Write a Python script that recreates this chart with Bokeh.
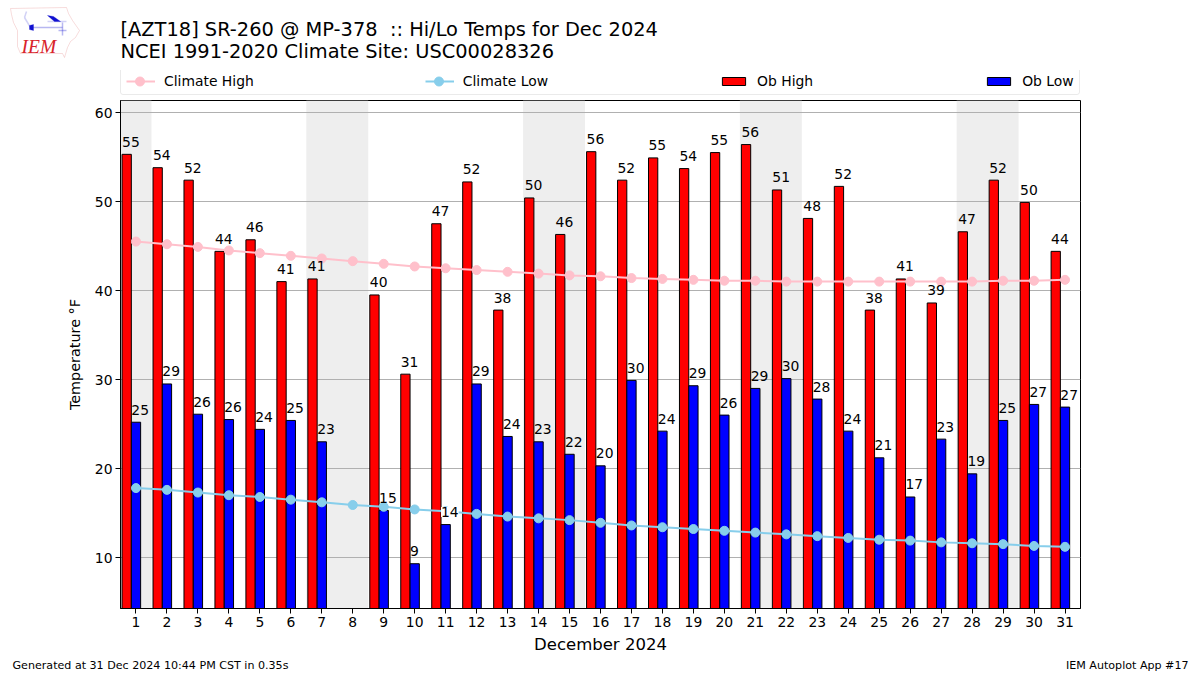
from bokeh.plotting import figure
from bokeh.layouts import column
from bokeh.models import (Legend, LegendItem, ColumnDataSource, Range1d, Label, PolyAnnotation,
                          FixedTicker)
from bokeh.core.properties import value
from bokeh.embed import file_html
from bokeh.resources import INLINE

days = list(range(1, 32))
ob_high = [55.3, 53.8, 52.4, 44.4, 45.7, 41.0, 41.3, None, 39.5, 30.6, 47.5, 52.2, 37.8, 50.4, 46.3, 55.6,
           52.4, 54.9, 53.7, 55.5, 56.4, 51.3, 48.1, 51.7, 37.8, 41.3, 38.6, 46.6, 52.4, 49.9, 44.4]
ob_low = [25.2, 29.5, 26.1, 25.5, 24.4, 25.4, 23.0, None, 15.3, 9.3, 13.7, 29.5, 23.6, 23.0, 21.6, 20.3,
          29.9, 24.2, 29.3, 26.0, 29.0, 30.1, 27.8, 24.2, 21.2, 16.8, 23.3, 19.4, 25.4, 27.2, 26.9]
high_labels = ["55", "54", "52", "44", "46", "41", "41", "", "40", "31", "47", "52", "38", "50", "46", "56",
               "52", "55", "54", "55", "56", "51", "48", "52", "38", "41", "39", "47", "52", "50", "44"]
low_labels = ["25", "29", "26", "26", "24", "25", "23", "", "15", "9", "14", "29", "24", "23", "22", "20",
              "30", "24", "29", "26", "29", "30", "28", "24", "21", "17", "23", "19", "25", "27", "27"]
clim_high = [45.5, 45.2, 44.9, 44.5, 44.2, 43.9, 43.6, 43.3, 43.0, 42.7, 42.5, 42.3, 42.1, 41.9, 41.7, 41.6,
             41.4, 41.3, 41.2, 41.1, 41.1, 41.0, 41.0, 41.0, 41.0, 41.0, 41.0, 41.0, 41.1, 41.1, 41.2]
clim_low = [17.8, 17.6, 17.3, 17.0, 16.8, 16.5, 16.2, 15.9, 15.7, 15.4, 15.2, 14.9, 14.6, 14.4, 14.2, 13.9,
            13.6, 13.4, 13.2, 13.0, 12.8, 12.6, 12.4, 12.2, 12.0, 11.9, 11.7, 11.6, 11.5, 11.3, 11.2]
weekend_starts = [0.5, 6.5, 13.5, 20.5, 27.5]
weekend_ends = [1.5, 8.5, 15.5, 22.5, 29.5]

FONT = "DejaVu Sans"
Y0, Y1 = 4.27, 61.35
LABEL_GAP = 0.85   # label bottom above the bar top, in degrees
HEADER_H, LEGEND_H, MAIN_H, FOOTER_H = 70, 29, 556, 20
HIGH, LOW, C_HIGH, C_LOW = "#ff0000", "#0000ff", "#ffc0cb", "#87ceeb"
NAN = float("nan")


def bare(w, h):
    f = figure(width=w, height=h, frame_width=w, frame_height=h, frame_align=False,
               output_backend="svg", toolbar_location=None,
               x_range=Range1d(0, w), y_range=Range1d(0, h),
               min_border=0, outline_line_color=None, x_axis_location=None, y_axis_location=None)
    f.grid.visible = False
    return f


# ---------- main chart ----------
p = figure(width=1200, height=MAIN_H, output_backend="svg", toolbar_location=None,
           x_range=Range1d(0.5, 31.5), y_range=Range1d(Y0, Y1),
           frame_width=960, frame_height=508, frame_align=False,
           min_border_left=120, min_border_right=120, min_border_top=1, min_border_bottom=47,
           outline_line_color="black", outline_line_width=1)

p.quad(left=weekend_starts, right=weekend_ends, bottom=Y0, top=Y1, fill_color="#eeeeee",
       line_color=None, level="image")

p.xgrid.visible = False
p.ygrid.grid_line_color = "#b0b0b0"
p.ygrid.grid_line_width = 1
p.ygrid.ticker = FixedTicker(ticks=[10, 20, 30, 40, 50, 60])
p.yaxis.ticker = FixedTicker(ticks=[10, 20, 30, 40, 50, 60])
p.xaxis.ticker = FixedTicker(ticks=days)
for ax in (p.xaxis[0], p.yaxis[0]):
    ax.major_label_text_font = FONT
    ax.major_label_text_font_size = "13.9px"
    ax.major_label_text_color = "black"
    ax.axis_label_text_font = FONT
    ax.axis_label_text_font_style = "normal"
    ax.axis_label_text_color = "black"
    ax.minor_tick_line_color = None
    ax.major_tick_in = 0
    ax.major_tick_out = 5
    ax.major_label_standoff = 3
    ax.axis_line_color = "black"
p.xaxis.axis_label = "December 2024"
p.xaxis.axis_label_text_font_size = "16.5px"
p.xaxis.axis_label_standoff = 5
p.yaxis.axis_label = "Temperature \u00b0F"
p.yaxis.axis_label_text_font_size = "14.4px"
p.yaxis.axis_label_standoff = 9


def series(values, labels, bar_shift, label_shift, climate):
    rows = [(d, v, t, c) for d, v, t, c in zip(days, values, labels, climate) if v is not None]
    return ColumnDataSource(dict(
        x=[r[0] + bar_shift for r in rows],
        lx=[r[0] + label_shift for r in rows],
        top=[r[1] for r in rows],
        ly=[r[1] + LABEL_GAP for r in rows],
        lab=[r[2] for r in rows],
        # white patch behind a label only where a climate line runs through it (the halo of the original)
        bg=["white" if r[1] + LABEL_GAP - 0.2 <= r[3] <= r[1] + LABEL_GAP + 1.3 else None for r in rows]))


hi = series(ob_high, high_labels, -0.3, -0.45, clim_high)
lo = series(ob_low, low_labels, 0.0, -0.15, clim_low)

p.vbar(x="x", top="top", bottom=Y0, width=0.3, source=hi, fill_color=HIGH, line_color="black", line_width=1)
p.vbar(x="x", top="top", bottom=Y0, width=0.3, source=lo, fill_color=LOW, line_color="black", line_width=1)

p.line(days, clim_high, line_color=C_HIGH, line_width=2)
p.scatter(days, clim_high, size=9, fill_color=C_HIGH, line_color=C_HIGH)
p.line(days, clim_low, line_color=C_LOW, line_width=2)
p.scatter(days, clim_low, size=9, fill_color=C_LOW, line_color=C_LOW)

for src in (hi, lo):
    p.text(x="lx", y="ly", text="lab", source=src, text_font=value(FONT), text_font_size="13.9px",
           text_color="black", text_align="left", text_baseline="bottom", background_fill_color="bg")

# ---------- legend strip (its own small figure, so the box can sit outside the chart frame) ----------
leg = bare(1200, LEGEND_H)
k_ch = [leg.line([NAN], [NAN], line_color=C_HIGH, line_width=2),
        leg.scatter([NAN], [NAN], size=9, fill_color=C_HIGH, line_color=C_HIGH)]
k_cl = [leg.line([NAN], [NAN], line_color=C_LOW, line_width=2),
        leg.scatter([NAN], [NAN], size=9, fill_color=C_LOW, line_color=C_LOW)]
k_hi = [leg.vbar(x=[NAN], top=[NAN], width=1, fill_color=HIGH, line_color="black")]
k_lo = [leg.vbar(x=[NAN], top=[NAN], width=1, fill_color=LOW, line_color="black")]
legend = Legend(items=[LegendItem(label="Climate High", renderers=k_ch),
                       LegendItem(label="Climate Low", renderers=k_cl),
                       LegendItem(label="Ob High", renderers=k_hi),
                       LegendItem(label="Ob Low", renderers=k_lo)],
                orientation="horizontal", location=(120, 4), spacing=171, padding=5,
                margin=0, glyph_width=29, glyph_height=10, label_standoff=9,
                label_text_font=FONT, label_text_font_size="13.9px", label_text_color="black",
                border_line_color="#d6d6d6", border_line_width=1, background_fill_alpha=0,
                border_radius=3)
leg.add_layout(legend, "center")
# legend markers are drawn too small by Bokeh: full-size keys show through the transparent legend box
leg.scatter(x=[139.5], y=[18], size=9, fill_color=C_HIGH, line_color=C_HIGH)
leg.scatter(x=[438.5], y=[18], size=9, fill_color=C_LOW, line_color=C_LOW)

# ---------- header: logo + title lines ----------
head = bare(1200, HEADER_H)


def hy(py):
    return HEADER_H - py


for text, base in (("[AZT18] SR-260 @ MP-378\u00a0 :: Hi/Lo Temps for Dec 2024", 29),
                   ("NCEI 1991-2020 Climate Site: USC00028326", 51)):
    head.add_layout(Label(x=120, y=hy(base), x_units="screen", y_units="screen", text=text,
                          text_font=FONT, text_font_size="19.4px", text_color="black",
                          text_baseline="alphabetic"))

outline_x = [10, 66, 68, 72, 79, 75, 70, 67, 64, 62, 20, 17, 17, 13, 11, 10]
outline_y = [8, 7, 13, 20, 30, 37, 41, 47, 57, 53, 53, 46, 30, 22, 14, 8]
head.add_layout(PolyAnnotation(xs=outline_x, ys=[hy(v) for v in outline_y],
                               xs_units="screen", ys_units="screen", fill_alpha=0,
                               line_color="#e58a8a", line_width=1))
for xs_, ys_, c in (([30, 62], [27, 27], "#1010d0"), ([30, 24], [27, 17], "#6a6ae0"), ([24, 26], [17, 11], "#6a6ae0"),
                    ([62, 62], [22, 35], "#1010d0"), ([58, 66], [30, 30], "#1010d0"), ([47, 66], [21, 21], "#6a6ae0")):
    head.add_layout(PolyAnnotation(xs=xs_, ys=[hy(v) for v in ys_],
                                   xs_units="screen", ys_units="screen", fill_alpha=0,
                                   line_color=c, line_width=1.5))
for xs_, ys_ in (([47, 53, 60, 54], [15, 16, 21, 21]), ([29, 33, 33, 29], [25, 24, 30, 29])):
    head.add_layout(PolyAnnotation(xs=xs_, ys=[hy(v) for v in ys_],
                                   xs_units="screen", ys_units="screen", fill_color="#1010d0", fill_alpha=1,
                                   line_color="#1010d0"))
head.add_layout(Label(x=21, y=hy(46), x_units="screen", y_units="screen", text="IEM",
                      text_font="Liberation Serif", text_font_style="italic", text_font_size="19.5px",
                      text_color="#d8232a", text_baseline="alphabetic"))

# ---------- footer ----------
foot = bare(1200, FOOTER_H)
foot.add_layout(Label(x=12, y=11, x_units="screen", y_units="screen",
                      text="Generated at 31 Dec 2024 10:44 PM CST in 0.35s",
                      text_font=FONT, text_font_size="11.1px", text_color="black", text_baseline="alphabetic"))
foot.add_layout(Label(x=1188, y=11, x_units="screen", y_units="screen", text_align="right",
                      text="IEM Autoplot App #17",
                      text_font=FONT, text_font_size="11.1px", text_color="black", text_baseline="alphabetic"))

page = column(head, leg, p, foot, spacing=0)
open("out.html", "w").write(file_html(page, INLINE))
